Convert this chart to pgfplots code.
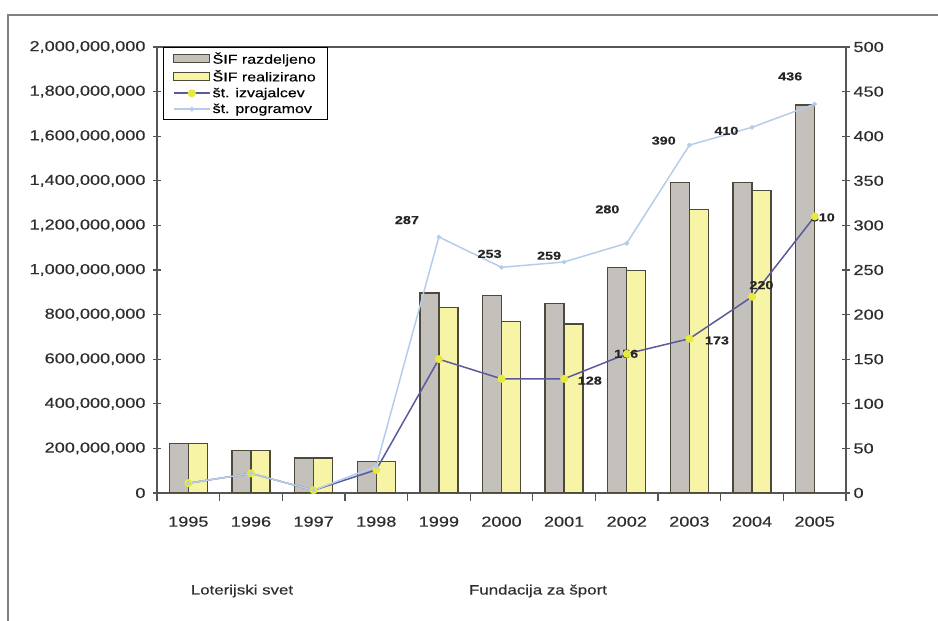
\documentclass[border=0pt]{standalone}
\usepackage{fontspec}
\setmainfont{Liberation Sans}[FakeStretch=1.25, FakeBold=0.4]
\usepackage{pgfplots}
\pgfplotsset{compat=1.18}

\definecolor{bargrey}{HTML}{C4C0BB}
\definecolor{baryel}{HTML}{F8F4A6}
\definecolor{barline}{HTML}{4D4A3C}
\definecolor{izv}{HTML}{5A5A9C}
\definecolor{izvmark}{HTML}{E6EA3C}
\definecolor{prog}{HTML}{B6CDEA}
\definecolor{axgrey}{HTML}{555555}
\definecolor{txt}{HTML}{2E2E2E}

\pgfplotsset{
  longline legend/.style={legend image code/.code={%
    \draw[mark repeat=2, mark phase=2, ##1, line width=1.6pt] plot coordinates {(0pt,0pt) (18pt,0pt) (36pt,0pt)};}},
}

\begin{document}
\begin{tikzpicture}[x=1pt,y=1pt]
\useasboundingbox (0,0) rectangle (938,621);
% outer frame (top and left edges only)
\draw[black!50, line width=2.5pt] (8,0) -- (8,606) -- (938,606);

\pgfplotsset{
  every axis/.append style={
    scale only axis, width=689pt, height=446pt,
    at={(157pt,128pt)}, anchor=south west,
    xmin=-0.5, xmax=10.5,
    tick align=center, major tick length=8pt,
    tick style={axgrey, line width=1.2pt},
    axis line style={axgrey, line width=1.6pt},
    ticklabel style={font=\fontsize{14.5}{16}\selectfont, text=txt},
  }
}

% left axis: money, bars
\begin{axis}[
  ymin=0, ymax=2000000000,
  ytick={0,200000000,...,2000000000},
  scaled y ticks=false,
  yticklabel style={/pgf/number format/fixed, /pgf/number format/precision=0,
    /pgf/number format/1000 sep={,}, /pgf/number format/assume math mode=true,
    xshift=-4pt},
  ytick pos=left, xtick pos=bottom,
  xtick={-0.5,0.5,...,10.5}, xticklabels={},
  extra x ticks={0,1,2,3,4,5,6,7,8,9,10},
  extra x tick labels={1995,1996,1997,1998,1999,2000,2001,2002,2003,2004,2005},
  extra x tick style={major tick length=0pt},
  xticklabel style={yshift=-20pt},
  ybar=0pt, bar width=19pt,
]
\addplot[fill=bargrey, draw=barline, line width=1.3pt] coordinates {
(0,222000000) (1,191000000) (2,157000000) (3,142000000) (4,897000000)
(5,885000000) (6,851000000) (7,1012000000) (8,1393000000) (9,1393000000)
(10,1740000000)};
\addplot[fill=baryel, draw=barline, line width=1.3pt] coordinates {
(0,222000000) (1,191000000) (2,157000000) (3,140000000) (4,831000000)
(5,768000000) (6,758000000) (7,997000000) (8,1272000000) (9,1356000000)};
\end{axis}

% right axis: counts, lines
\begin{axis}[
  ymin=0, ymax=500, ytick={0,50,...,500},
  axis y line*=right, axis x line=none,
  yticklabel style={/pgf/number format/assume math mode=true},
  legend style={at={(0.008,1)}, anchor=north west, draw=black, line width=1pt,
    font=\fontsize{12.8}{13}\selectfont, text=black, inner xsep=10pt, inner ysep=3pt,
    row sep=1pt, cells={anchor=west}},
  legend cell align=left,
]
\addlegendimage{legend image code/.code={\draw[fill=bargrey, draw=barline, line width=1.3pt] (0pt,-4pt) rectangle (36pt,4pt);}}
\addlegendentry{ŠIF razdeljeno}
\addlegendimage{legend image code/.code={\draw[fill=baryel, draw=barline, line width=1.3pt] (0pt,-4pt) rectangle (36pt,4pt);}}
\addlegendentry{ŠIF realizirano}

\addplot[izv, line width=1.5pt, mark=*, mark size=3.2pt,
  mark options={fill=izvmark, draw=izvmark}, longline legend]
  coordinates {
(0,11) (1,22) (2,3) (3,26) (4,150) (5,128) (6,128) (7,156) (8,173) (9,220) (10,310)};
\addlegendentry{št. izvajalcev}
\addplot[prog, line width=1.5pt, mark=*, mark size=1.5pt,
  mark options={fill=prog, draw=prog}, longline legend]
  coordinates {
(0,11) (1,22) (2,3) (3,30) (4,287) (5,253) (6,259) (7,280) (8,390) (9,410) (10,436)};
\addlegendentry{št. programov}

% value labels
\begin{scope}[every node/.style={font=\fontsize{11.5}{12}\bfseries, text=black!85}]
\node at (axis cs:3.49,306) {287};
\node at (axis cs:4.81,268) {253};
\node at (axis cs:5.76,266) {259};
\node at (axis cs:6.69,318) {280};
\node at (axis cs:7.59,395) {390};
\node at (axis cs:8.59,406) {410};
\node at (axis cs:9.61,467) {436};
\node at (axis cs:6.41,126) {128};
\node at (axis cs:6.99,156) {156};
\node at (axis cs:8.44,171) {173};
\node at (axis cs:9.15,233) {220};
\node at (axis cs:10.13,309) {310};
\end{scope}
\end{axis}

\node[font=\fontsize{13.5}{15}\selectfont, text=txt] at (242,30) {Loterijski svet};
\node[font=\fontsize{13.5}{15}\selectfont, text=txt] at (538,30) {Fundacija za šport};
\end{tikzpicture}
\end{document}
